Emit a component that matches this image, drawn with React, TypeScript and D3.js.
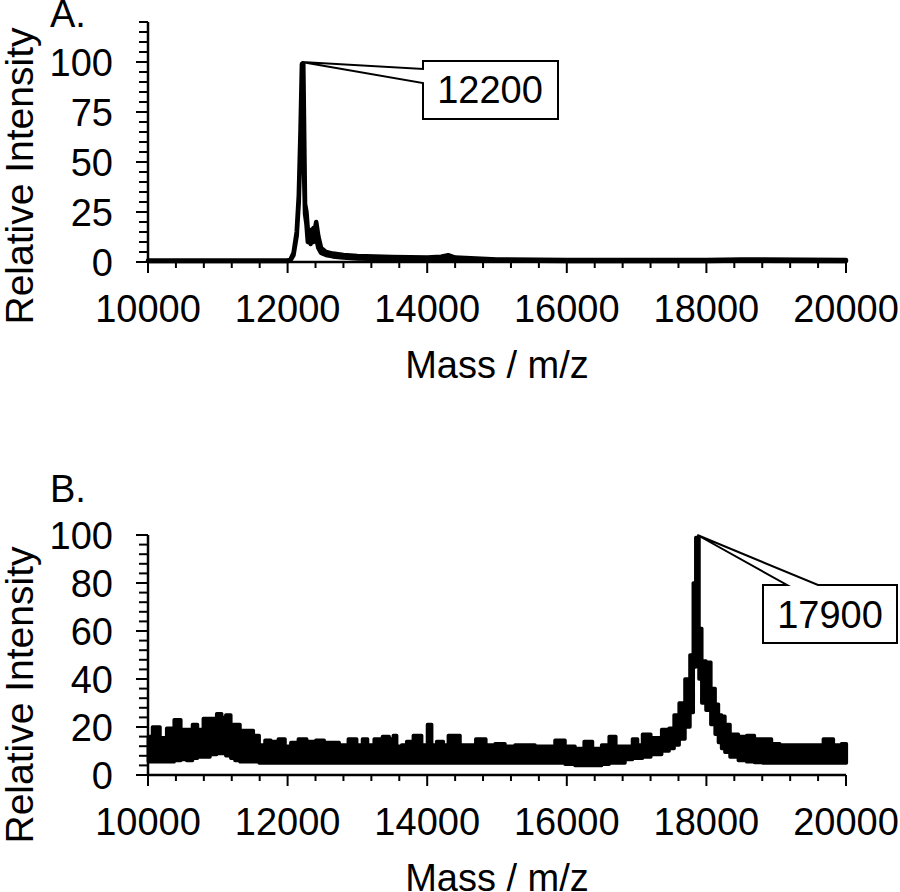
import React from "react";
import * as d3 from "d3";

// ---------- DATA ----------
const xTicks = [10000, 12000, 14000, 16000, 18000, 20000];
const yTicksA = [0, 25, 50, 75, 100];
const yTicksB = [0, 20, 40, 60, 80, 100];

// Panel A spectrum envelope: mass, low, high (relative intensity)
const massA = [10000, 11000, 11900, 12000, 12040, 12085, 12130, 12160, 12185, 12205, 12225, 12250, 12270, 12290, 12310, 12330, 12350, 12370, 12390, 12410, 12440, 12480, 12550, 12650, 12800, 13000, 13500, 14000, 14200, 14300, 14400, 15000, 16000, 18000, 18500, 20000];
const loA =   [0.5, 0.5, 0.5, 0.5, 0.8, 3.5, 13, 30, 62, 97, 60, 24, 19, 10, 11, 9, 12, 10, 13, 12, 7, 4.5, 3.5, 2.8, 2.2, 1.8, 1.4, 1.3, 1.3, 1.8, 1.3, 0.8, 0.5, 0.5, 0.7, 0.5];
const hiA =   [0.8, 0.8, 0.8, 0.8, 1.2, 4.5, 15, 33, 66, 99, 99, 29, 25, 16, 13, 16, 14, 17, 16, 20, 13, 7, 5, 4.2, 3.5, 3, 2.5, 2.2, 2.6, 3.4, 2.2, 1.3, 1, 1, 1.3, 1];

// Panel B spectrum envelope: mass, low, high
const massB = [10005, 10124, 10220, 10315, 10435, 10506, 10602, 10673, 10745, 10840, 10936, 11032, 11079, 11151, 11222, 11270, 11366, 11461, 11557, 11628, 11724, 11796, 11939, 11987, 12106, 12202, 12345, 12464, 12584, 12679, 12798, 12942, 13037, 13109, 13181, 13300, 13419, 13491, 13539, 13586, 13682, 13730, 13873, 13968, 14040, 14088, 14183, 14279, 14327, 14422, 14518, 14613, 14780, 14900, 15043, 15186, 15330, 15473, 15616, 15759, 15903, 16046, 16189, 16308, 16428, 16571, 16643, 16762, 16905, 16977, 17050, 17120, 17287, 17431, 17500, 17574, 17645, 17741, 17788, 17836, 17860, 17880, 17908, 17960, 18028, 18100, 18150, 18195, 18240, 18291, 18386, 18529, 18625, 18750, 18864, 19000, 19103, 19342, 19580, 19771, 19867, 20005];
const loB = [5.5, 5.5, 5.5, 5.5, 6, 6.5, 6, 7, 7.5, 7.5, 8.5, 9, 9, 8, 7, 6, 5.5, 5.5, 5.5, 5, 5, 5, 5, 5, 5, 5, 5, 5, 5, 5, 5, 5, 5, 5, 5, 5, 5, 5, 5, 5, 5, 5, 5, 5, 5, 5, 5, 5, 5, 5, 5, 5, 5, 5, 5, 5, 5, 5, 5, 5, 5, 4.5, 4, 4, 4, 4.5, 5, 5, 6.5, 7, 7, 7.5, 8.5, 10, 11, 12.5, 15, 20, 26, 45, 85, 60, 40, 30, 27, 21, 17, 13.5, 11, 9.5, 7.5, 6, 5.5, 5.2, 5, 5, 5, 5, 5, 5, 5, 5];
const hiB = [16, 20, 15.5, 19.5, 23, 19, 19, 21, 19, 23.5, 23.5, 25.5, 24, 25, 21, 21, 18.5, 18.5, 16.5, 12.5, 14.5, 14, 15, 12, 13.5, 15, 14, 14.5, 13.5, 13.5, 12.5, 15, 12.5, 15, 12.5, 15, 16, 15, 16.5, 12, 12.5, 14, 16.5, 12.5, 21, 12.5, 14, 12.5, 16.5, 16.5, 12.5, 12.5, 15, 12.5, 13, 12, 12.5, 12.5, 12, 12, 14.5, 12, 11, 14, 11, 12.5, 16, 12, 12, 15, 12.5, 17, 15.5, 19, 19.5, 25, 30, 40, 50, 80, 99, 99, 61, 47.5, 47, 36, 29.5, 25, 24.5, 21, 17, 16, 16.5, 15, 15, 13, 12.5, 12.5, 12.5, 15, 12.5, 13];

const peakA = { mass: 12200, value: 100, label: "12200" };
const peakB = { mass: 17870, value: 100, label: "17900" };

// ---------- LAYOUT ----------
const W = 900;
const H = 892;
const FONT = "'Liberation Sans', Arial, Helvetica, sans-serif";
const FS = 38;

type Pt = { m: number; lo: number; hi: number };

type PanelProps = {
  letter: string;
  mass: number[];
  lo: number[];
  hi: number[];
  yMax: number;
  yMajor: number[];
  yMinorStep: number;
  yBottom: number;
  yTop: number;
  letterY: number;
  titleY: number;
  yTitleCenter: number;
  stepped: boolean;
  stroke: number;
  peak: { mass: number; value: number; label: string };
  callout: (px: number, py: number) => { path: string; tx: number; ty: number };
};

const x = d3.scaleLinear().domain([10000, 20000]).range([148, 846]);

function Panel(p: PanelProps) {
  const y = d3.scaleLinear().domain([0, p.yMax]).range([p.yBottom, p.yTop]);
  const pts: Pt[] = p.mass.map((m, i) => ({ m, lo: p.lo[i], hi: p.hi[i] }));
  const area = d3
    .area<Pt>()
    .x((d) => x(d.m))
    .y0((d) => y(d.lo))
    .y1((d) => y(d.hi))
    .curve(p.stepped ? d3.curveStep : d3.curveLinear);
  const minorY = d3.range(0, p.yMax + 0.001, p.yMinorStep);
  const minorX = d3.range(10000, 20000.1, 400);
  const x0 = x(10000);
  const x1 = x(20000);
  const px = x(p.peak.mass);
  const py = y(p.peak.value);
  const c = p.callout(px, py);
  return (
    <g>
      <text x={50} y={p.letterY} fontFamily={FONT} fontSize={FS}>{p.letter}</text>
      {/* data */}
      <path d={area(pts) || ""} fill="#000" stroke="#000" strokeWidth={p.stroke} strokeLinejoin="round" />
      {/* axes */}
      <line x1={x0} x2={x1} y1={p.yBottom} y2={p.yBottom} stroke="#000" strokeWidth={2.5} />
      <line x1={x0} x2={x0} y1={p.yBottom + 1} y2={p.yTop} stroke="#000" strokeWidth={2.5} />
      {minorY.map((v) => (
        <line key={"my" + v} x1={x0 - (p.yMajor.includes(v) ? 12 : 9)} x2={x0} y1={y(v)} y2={y(v)} stroke="#000" strokeWidth={2} />
      ))}
      {minorX.map((v) => (
        <line key={"mx" + v} x1={x(v)} x2={x(v)} y1={p.yBottom} y2={p.yBottom + (Math.round(v) % 2000 === 0 ? 11 : 6)} stroke="#000" strokeWidth={2} />
      ))}
      {p.yMajor.map((v) => (
        <text key={"yl" + v} x={113} y={y(v)} dy="0.36em" textAnchor="end" fontFamily={FONT} fontSize={FS}>{v}</text>
      ))}
      {xTicks.map((v) => (
        <text key={"xl" + v} x={x(v)} y={p.yBottom + 60} textAnchor="middle" fontFamily={FONT} fontSize={FS}>{v}</text>
      ))}
      <text x={(x0 + x1) / 2} y={p.titleY} textAnchor="middle" fontFamily={FONT} fontSize={FS}>Mass / m/z</text>
      <text transform={`translate(33,${p.yTitleCenter}) rotate(-90)`} textAnchor="middle" fontFamily={FONT} fontSize={39}>Relative Intensity</text>
      {/* callout */}
      <path d={c.path} fill="#fff" stroke="#000" strokeWidth={2} strokeLinejoin="miter" />
      <text x={c.tx} y={c.ty} textAnchor="middle" fontFamily={FONT} fontSize={FS}>{p.peak.label}</text>
    </g>
  );
}

export default function App() {
  return (
    <svg width={W} height={H} style={{ position: "absolute", left: 0, top: 0, background: "#fff" }}>
      <rect x={0} y={0} width={W} height={H} fill="#fff" />
      <Panel
        letter="A."
        mass={massA}
        lo={loA}
        hi={hiA}
        yMax={120}
        yMajor={yTicksA}
        yMinorStep={5}
        yBottom={262}
        yTop={22}
        letterY={27}
        titleY={378}
        yTitleCenter={176}
        stepped={false}
        stroke={4.5}
        peak={peakA}
        callout={(px, py) => ({
          path: `M${px},${py} L423,69 L423,61 L558,61 L558,119 L423,119 L423,83 Z`,
          tx: 490,
          ty: 103,
        })}
      />
      <Panel
        letter="B."
        mass={massB}
        lo={loB}
        hi={hiB}
        yMax={100}
        yMajor={yTicksB}
        yMinorStep={4}
        yBottom={775}
        yTop={535}
        letterY={502}
        titleY={891}
        yTitleCenter={695}
        stepped={true}
        stroke={3.5}
        peak={peakB}
        callout={(px, py) => ({
          path: `M${px},${py} L787,585 L763,585 L763,643 L897,643 L897,585 L818,585 Z`,
          tx: 830,
          ty: 628,
        })}
      />
    </svg>
  );
}
